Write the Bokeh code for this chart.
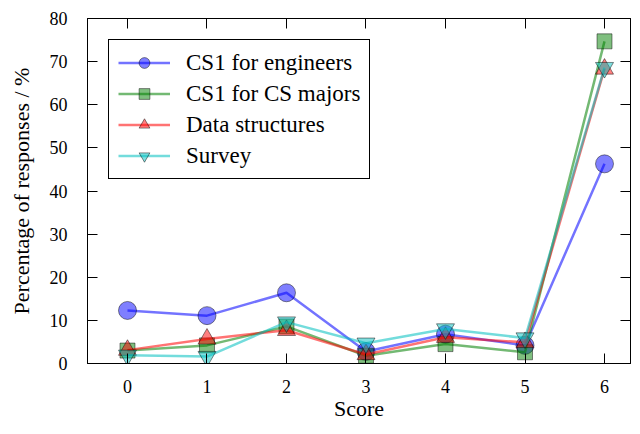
from bokeh.plotting import figure
from bokeh.models import LinearAxis, FixedTicker, Range1d, Legend, LegendItem
from bokeh.embed import file_html
from bokeh.resources import INLINE

scores = [0, 1, 2, 3, 4, 5, 6]
y_ticks = [0, 10, 20, 30, 40, 50, 60, 70, 80]

cs1_engineers = [12.3, 11.1, 16.4, 2.8, 6.8, 4.2, 46.3]
cs1_cs_majors = [3.0, 4.2, 8.6, 1.8, 4.5, 2.6, 74.7]
data_structures = [3.1, 5.7, 7.7, 2.1, 6.1, 4.9, 68.3]
survey = [1.9, 1.6, 9.6, 4.7, 8.0, 5.9, 68.6]

series = [
    ("CS1 for engineers", cs1_engineers, "#0000ff", "circle", 18),
    ("CS1 for CS majors", cs1_cs_majors, "#008000", "square", 15),
    ("Data structures", data_structures, "#ff0000", "triangle", 18),
    ("Survey", survey, "#00bfbf", "inverted_triangle", 18),
]

FONT = "'Liberation Serif', 'DejaVu Serif', serif"

p = figure(width=632, height=426, output_backend="svg", toolbar_location=None,
           x_range=Range1d(-0.503, 6.327), y_range=Range1d(0, 80),
           min_border_left=87, min_border_right=2, min_border_top=18,
           min_border_bottom=63)
p.xgrid.visible = False
p.ygrid.visible = False
p.outline_line_color = "black"
p.outline_line_width = 1
p.outline_line_alpha = 1
p.background_fill_color = "white"
p.border_fill_color = "white"

for ax in (p.xaxis[0], p.yaxis[0]):
    ax.major_tick_in = 10
    ax.major_tick_out = 0
    ax.minor_tick_line_color = None
    ax.axis_line_color = "black"
    ax.major_tick_line_color = "black"
    ax.major_label_text_font = FONT
    ax.major_label_text_font_size = "18px"
    ax.major_label_text_color = "black"
    ax.axis_label_text_font = FONT
    ax.axis_label_text_font_size = "22px"
    ax.axis_label_text_font_style = "normal"
    ax.axis_label_text_color = "black"

p.xaxis.ticker = FixedTicker(ticks=scores)
p.yaxis.ticker = FixedTicker(ticks=y_ticks)
p.xaxis.axis_label = "Score"
p.yaxis.axis_label = "Percentage of responses / %"
p.xaxis.major_label_standoff = 16
p.xaxis.axis_label_standoff = 0
p.yaxis.major_label_standoff = 20
p.yaxis.axis_label_standoff = 13

top = LinearAxis(ticker=FixedTicker(ticks=scores), major_label_text_font_size="1px",
                 major_label_text_color=None,
                 major_label_standoff=0, major_tick_in=10, major_tick_out=0,
                 minor_tick_line_color=None, axis_line_color="black")
right = LinearAxis(ticker=FixedTicker(ticks=y_ticks), major_label_text_font_size="1px",
                   major_label_text_color=None,
                   major_label_standoff=0, major_tick_in=10, major_tick_out=0,
                   minor_tick_line_color=None, axis_line_color="black")
p.add_layout(top, "above")
p.add_layout(right, "right")

items = []
for label, vals, color, marker, size in series:
    ln = p.line(scores, vals, line_color=color, line_alpha=0.55, line_width=2.5,
                line_join="round")
    sc = p.scatter(scores, vals, marker=marker, size=size, fill_color=color,
                   fill_alpha=0.5, line_color="black", line_alpha=0.45, line_width=1)
    items.append(LegendItem(label=label, renderers=[ln, sc]))

legend = Legend(items=items, location="top_left", margin=21, padding=9, spacing=4,
                label_height=27, glyph_height=27, glyph_width=52, label_standoff=16,
                label_text_font=FONT, label_text_font_size="23px",
                label_text_color="black",
                border_line_color="black", border_line_width=1, border_line_alpha=1,
                background_fill_color="white", background_fill_alpha=1)
p.add_layout(legend)

open("out.html", "w").write(file_html(p, INLINE))
